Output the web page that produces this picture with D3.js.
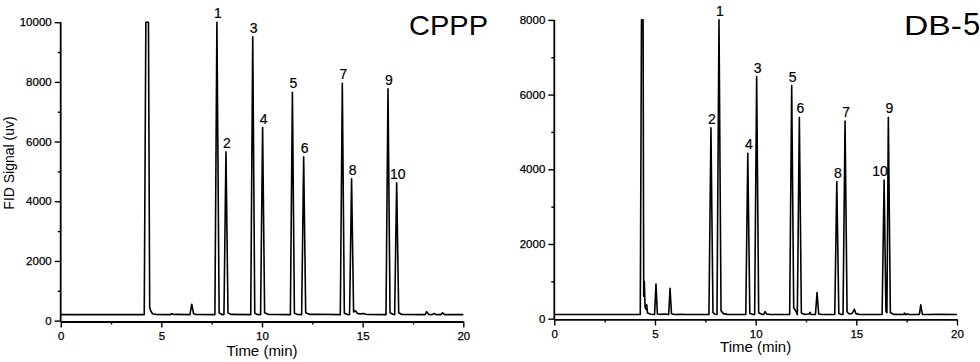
<!DOCTYPE html>
<html>
<head>
<meta charset="utf-8">
<script src="https://cdn.jsdelivr.net/npm/d3@7"></script>
<style>
  html, body { margin: 0; padding: 0; background: #fff; }
  svg { display: block; }
  text { font-family: "Liberation Sans", Arial, Helvetica, sans-serif; fill: #000; }
</style>
</head>
<body>
<svg id="chart" width="980" height="362"></svg>
<script>
// ---------------- DATA ----------------
const xTicks = [0, 5, 10, 15, 20];
const xMinorTicks = [2.5, 7.5, 12.5, 17.5];
const cpppYTicks = [0, 2000, 4000, 6000, 8000, 10000];
const cpppYMinorTicks = [1000, 3000, 5000, 7000, 9000];
const db5YTicks = [0, 2000, 4000, 6000, 8000];
const db5YMinorTicks = [1000, 3000, 5000, 7000];
const peakLabels = ["1", "2", "3", "4", "5", "6", "7", "8", "9", "10"];

// CPPP column: apex of the labelled peaks
const cpppPeakTime   = [7.76, 8.21, 9.54, 10.03, 11.51, 12.07, 13.99, 14.45, 16.26, 16.69];
const cpppPeakHeight = [10000, 5660, 9510, 6470, 7650, 5490, 7950, 4750, 7770, 4620];
// DB-5 column: apex of the labelled peaks
const db5PeakTime   = [8.18, 7.78, 10.05, 9.61, 11.79, 12.17, 14.44, 14.03, 16.59, 16.38];
const db5PeakHeight = [8000, 5110, 6480, 4430, 6240, 5390, 5290, 3670, 5390, 3710];

// CPPP chromatogram trace (time in min, signal in uV)
const cpppTime = [0, 4.15, 4.23, 4.36, 4.42, 4.47, 4.56, 4.75, 5.45, 5.52, 5.60, 5.75, 6.42, 6.51, 6.60, 6.72,
  7.66, 7.76, 7.87, 7.98, 8.11, 8.21, 8.31, 8.45, 9.44, 9.54, 9.64, 9.76, 9.93, 10.03, 10.13, 10.30, 10.60,
  11.41, 11.51, 11.61, 11.75, 11.97, 12.07, 12.17, 12.35, 12.80, 13.89, 13.99, 14.09, 14.25, 14.35, 14.45,
  14.55, 14.65, 14.72, 14.85, 15.05, 15.20, 16.16, 16.26, 16.36, 16.50, 16.59, 16.69, 16.79, 16.95,
  18.10, 18.18, 18.28, 18.45, 18.55, 18.65, 18.88, 18.97, 19.07, 20];
const cpppSignal = [200, 200, 10000, 10000, 450, 330, 230, 205, 200, 235, 205, 210, 200, 550, 230, 205,
  200, 10000, 260, 210, 200, 5660, 260, 210, 200, 9510, 250, 205, 200, 6470, 260, 210, 205,
  200, 7650, 250, 205, 200, 5490, 260, 210, 212, 200, 7950, 250, 205, 200, 4750,
  290, 330, 250, 225, 235, 205, 200, 7770, 260, 215, 200, 4620, 265, 205,
  200, 300, 205, 200, 240, 200, 200, 260, 200, 200];

// DB-5 chromatogram trace
const db5Time = [0, 4.27, 4.33, 4.41, 4.44, 4.47, 4.51, 4.56, 4.59, 4.63, 4.80, 4.98, 5.05, 5.12, 5.30, 5.50,
  5.68, 5.75, 5.82, 5.95, 6.30, 6.60, 7.68, 7.78, 7.88, 7.98, 8.08, 8.18, 8.28, 8.40, 8.60,
  9.51, 9.61, 9.71, 9.85, 9.95, 10.05, 10.15, 10.30, 10.40, 10.47, 10.55, 10.75,
  11.69, 11.79, 11.89, 11.98, 12.07, 12.17, 12.27, 12.40, 12.65, 12.70, 12.75, 12.97, 13.05, 13.13, 13.30,
  13.93, 14.03, 14.13, 14.24, 14.34, 14.44, 14.54, 14.65, 14.80, 14.90, 14.98, 15.15, 15.30,
  16.28, 16.38, 16.47, 16.52, 16.59, 16.69, 16.85, 17.35, 17.40, 17.45, 17.55, 17.60,
  18.13, 18.20, 18.28, 18.50, 19.00, 20];
const db5Signal = [110, 110, 8000, 8000, 600, 1000, 300, 250, 370, 150, 120, 110, 925, 125, 115, 125,
  110, 815, 130, 110, 118, 112, 110, 5110, 160, 120, 110, 8000, 210, 135, 115,
  110, 4430, 140, 115, 110, 6480, 160, 115, 115, 190, 120, 112,
  110, 6240, 290, 220, 110, 5390, 150, 115, 125, 170, 115, 110, 700, 125, 112,
  110, 3670, 140, 115, 110, 5290, 180, 125, 145, 250, 135, 115, 110,
  110, 3710, 200, 160, 5390, 165, 115, 110, 150, 105, 130, 110,
  110, 370, 115, 110, 115, 110];

// ---------------- DRAW ----------------
const svg = d3.select("#chart");
const FONT = '"Liberation Sans", Arial, Helvetica, sans-serif';

function drawPanel(cfg) {
  const x = d3.scaleLinear().domain([0, 20]).range(cfg.xRange);
  const y = d3.scaleLinear().domain(cfg.yDomain).range(cfg.yRange);
  const g = svg.append("g");
  const y0 = cfg.yRange[0];

  // trace
  const line = d3.line().x(d => x(d[0])).y(d => y(d[1])).curve(d3.curveLinear);
  const pts = cfg.time.map((t, i) => [t, cfg.signal[i]]);
  g.append("path").datum(pts)
    .attr("d", line)
    .attr("fill", "none")
    .attr("stroke", "#000")
    .attr("stroke-width", 1.6)
    .attr("stroke-linejoin", "round");

  // x axis
  const xAxis = d3.axisBottom(x).tickValues(xTicks).tickFormat(d3.format("d"))
    .tickSize(6).tickSizeOuter(0).tickPadding(4);
  const gx = g.append("g").attr("transform", `translate(0,${y0})`).call(xAxis);
  const xMinor = d3.axisBottom(x).tickValues(xMinorTicks).tickFormat("").tickSize(3).tickSizeOuter(0);
  const gxm = g.append("g").attr("transform", `translate(0,${y0})`).call(xMinor);
  gxm.select(".domain").remove();

  // y axis
  const yAxis = d3.axisLeft(y).tickValues(cfg.yTicks).tickFormat(d3.format("d"))
    .tickSize(6).tickSizeOuter(0).tickPadding(3);
  const gy = g.append("g").attr("transform", `translate(${cfg.xRange[0]},0)`).call(yAxis);
  gy.select(".domain").attr("d", `M0,${y0}V${y(cfg.yDomain[1])}`);
  const yMinor = d3.axisLeft(y).tickValues(cfg.yMinor).tickFormat("").tickSize(3).tickSizeOuter(0);
  const gym = g.append("g").attr("transform", `translate(${cfg.xRange[0]},0)`).call(yMinor);
  gym.select(".domain").remove();

  [gx, gxm, gy, gym].forEach(a => {
    a.selectAll(".domain").attr("stroke", "#000").attr("stroke-width", 1.8);
    a.selectAll(".tick line").attr("stroke", "#000").attr("stroke-width", 1.4);
    a.selectAll(".tick text").attr("font-family", FONT).attr("font-size", 11.5).attr("fill", "#000")
      .attr("stroke", "#000").attr("stroke-width", 0.25);
  });

  // peak labels: a label whose peak has a taller neighbour just to its right is nudged left
  const crowded = (d, i) => cfg.peakTime.some((t, j) =>
    j !== i && t > d && t - d < 0.3 && cfg.peakHeight[j] > cfg.peakHeight[i]);
  g.selectAll("text.peak").data(cfg.peakTime).enter().append("text")
    .attr("class", "peak")
    .attr("x", (d, i) => x(d) + (crowded(d, i) ? -4 : 1))
    .attr("y", (d, i) => y(cfg.peakHeight[i]) - 4)
    .attr("text-anchor", "middle")
    .attr("font-size", 14)
    .attr("fill", "#000")
    .attr("stroke", "#000").attr("stroke-width", 0.2)
    .text((d, i) => peakLabels[i]);

  // x axis title
  g.append("text")
    .attr("x", (cfg.xRange[0] + cfg.xRange[1]) / 2)
    .attr("y", y0 + cfg.xTitleOffset)
    .attr("text-anchor", "middle")
    .attr("font-size", 15)
    .attr("fill", "#000")
    .text("Time (min)");
  return { x, y, g };
}

const left = drawPanel({
  xRange: [60.7, 463.3], yDomain: [-30, 10000], yRange: [321.5, 22.2],
  yTicks: cpppYTicks, yMinor: cpppYMinorTicks,
  time: cpppTime, signal: cpppSignal,
  peakTime: cpppPeakTime, peakHeight: cpppPeakHeight,
  xTitleOffset: 34.5
});
const right = drawPanel({
  xRange: [554.3, 957], yDomain: [-20, 8000], yRange: [319.4, 19.9],
  yTicks: db5YTicks, yMinor: db5YMinorTicks,
  time: db5Time, signal: db5Signal,
  peakTime: db5PeakTime, peakHeight: db5PeakHeight,
  xTitleOffset: 32.5
});

// y axis title (left)
svg.append("text")
  .attr("transform", "translate(13.5,163) rotate(-90)")
  .attr("text-anchor", "middle")
  .attr("font-size", 14)
  .attr("fill", "#000")
  .text("FID Signal (uv)");

// panel titles
svg.append("text").attr("x", 409).attr("y", 35).attr("font-size", 28)
  .attr("textLength", 79).attr("lengthAdjust", "spacingAndGlyphs").text("CPPP");
svg.append("text").attr("x", 904).attr("y", 35).attr("font-size", 28)
  .attr("textLength", 58).attr("lengthAdjust", "spacingAndGlyphs").text("DB-");
svg.append("text").attr("x", 963).attr("y", 35)
  .attr("font-family", '"Liberation Serif", "Times New Roman", serif')
  .attr("font-size", 31).text("5");
</script>
</body>
</html>
